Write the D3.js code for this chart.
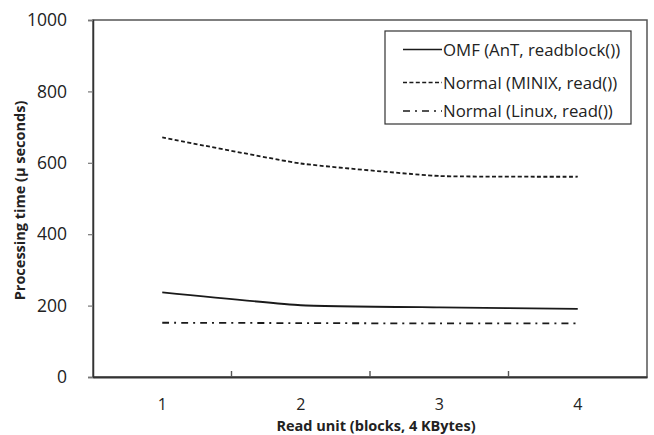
<!DOCTYPE html>
<html>
<head>
<meta charset="utf-8">
<script src="https://cdn.jsdelivr.net/npm/d3@7"></script>
<style>
  html, body { margin: 0; padding: 0; background: #fff; }
  svg { display: block; }
  text { font-family: "Open Sans", "Liberation Sans", sans-serif; fill: #222; }
</style>
</head>
<body>
<svg id="chart" width="654" height="435"></svg>
<script>
// Read unit (blocks) on the x axis
const readUnits = [1, 2, 3, 4];
// Processing time in microseconds
const omfAnT = [237, 201, 195, 191];
const normalMinix = [671, 598, 563, 561];
const normalLinux = [152, 151, 150, 150];
const yTicks = [0, 200, 400, 600, 800, 1000];

const seriesNames = ["OMF (AnT, readblock())", "Normal (MINIX, read())", "Normal (Linux, read())"];
const seriesDash = [null, "4,2.4", "7,5,2,5"];
const seriesValues = [omfAnT, normalMinix, normalLinux];

const svg = d3.select("#chart");
const margin = { left: 93, top: 20, right: 7, bottom: 58 };
const W = 654, H = 435;

const x = d3.scaleBand()
  .domain(readUnits)
  .range([margin.left, W - margin.right])
  .paddingInner(0).paddingOuter(0);
const y = d3.scaleLinear()
  .domain([0, 1000])
  .range([H - margin.bottom, margin.top]);

const cx = d => x(d) + x.bandwidth() / 2;

// plot frame
svg.append("rect")
  .attr("x", margin.left).attr("y", margin.top)
  .attr("width", W - margin.right - margin.left)
  .attr("height", H - margin.bottom - margin.top)
  .attr("fill", "none").attr("stroke", "#555").attr("stroke-width", 1.5);

// y axis
const yAxis = svg.append("g")
  .attr("transform", `translate(${margin.left},0)`)
  .call(d3.axisLeft(y).tickValues(yTicks).tickFormat(d3.format("d")).tickSize(5).tickPadding(21));
yAxis.select(".domain").attr("stroke", "#333").attr("stroke-width", 1.5);
yAxis.selectAll(".tick line").attr("stroke", "#777").attr("stroke-width", 1.2);
yAxis.selectAll(".tick text")
  .style("font-family", "'Open Sans', sans-serif")
  .attr("font-size", 17.5).attr("fill", "#222");

// x axis: labels at band centres, inside tick marks on band boundaries
const xAxis = svg.append("g")
  .attr("transform", `translate(0,${H - margin.bottom})`)
  .call(d3.axisBottom(x).tickSize(0).tickPadding(22));
xAxis.select(".domain").attr("stroke", "#333").attr("stroke-width", 1.8);
xAxis.selectAll(".tick text")
  .style("font-family", "'Open Sans', sans-serif")
  .attr("font-size", 16).attr("fill", "#222");
xAxis.selectAll(".boundary")
  .data(readUnits.slice(1))
  .enter().append("line")
  .attr("x1", d => x(d)).attr("x2", d => x(d))
  .attr("y1", 0).attr("y2", -6)
  .attr("stroke", "#555").attr("stroke-width", 1.4);

// axis titles
svg.append("text")
  .attr("transform", `translate(25,${(margin.top + H - margin.bottom) / 2 + 2}) rotate(-90)`)
  .attr("text-anchor", "middle")
  .attr("font-size", 14.5).attr("font-weight", "bold")
  .text("Processing time (μ seconds)");
svg.append("text")
  .attr("x", (margin.left + W - margin.right) / 2 + 6)
  .attr("y", 431)
  .attr("text-anchor", "middle")
  .attr("font-size", 14.5).attr("font-weight", "bold")
  .text("Read unit (blocks, 4 KBytes)");

// series lines (lightly smoothed)
const line = d3.line()
  .x((d, i) => cx(readUnits[i]))
  .y(d => y(d))
  .curve(d3.curveCardinal.tension(0.6));

seriesValues.forEach((vals, i) => {
  svg.append("path")
    .datum(vals)
    .attr("d", line)
    .attr("fill", "none")
    .attr("stroke", "#1a1a1a")
    .attr("stroke-width", 1.8)
    .attr("stroke-dasharray", seriesDash[i]);
});

// legend
const lg = svg.append("g");
lg.append("rect")
  .attr("x", 385).attr("y", 31).attr("width", 246).attr("height", 93)
  .attr("fill", "#fff").attr("stroke", "#333").attr("stroke-width", 1.2);
const rowY = [49.5, 82.5, 111];
seriesNames.forEach((name, i) => {
  lg.append("line")
    .attr("x1", 403).attr("x2", 442)
    .attr("y1", rowY[i]).attr("y2", rowY[i])
    .attr("stroke", "#1a1a1a").attr("stroke-width", 1.6)
    .attr("stroke-dasharray", seriesDash[i]);
  lg.append("text")
    .attr("x", 443).attr("y", rowY[i])
    .attr("dy", "0.36em")
    .attr("font-size", 16.8)
    .text(name);
});
</script>
</body>
</html>
